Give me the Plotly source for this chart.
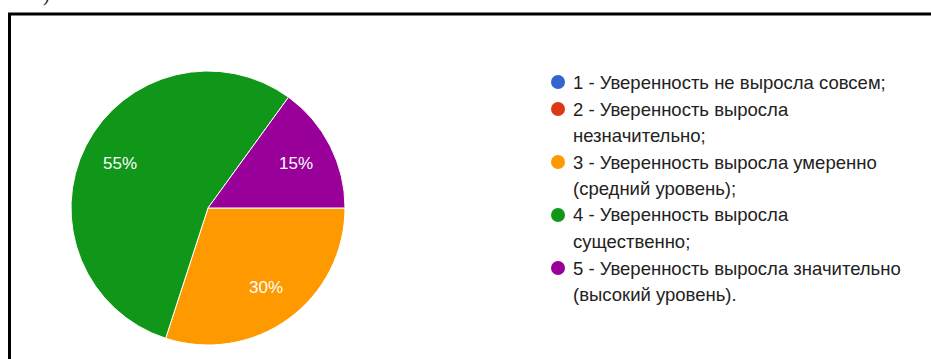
import math
import plotly.graph_objects as go

# Survey answers: growth of confidence (share of respondents, %)
labels = [
    "1 - Уверенность не выросла совсем;",
    "2 - Уверенность выросла незначительно;",
    "3 - Уверенность выросла умеренно (средний уровень);",
    "4 - Уверенность выросла существенно;",
    "5 - Уверенность выросла значительно (высокий уровень).",
]
# legend text, already broken into display lines
legend_lines = [
    ["1 - Уверенность не выросла совсем;"],
    ["2 - Уверенность выросла", "незначительно;"],
    ["3 - Уверенность выросла умеренно", "(средний уровень);"],
    ["4 - Уверенность выросла", "существенно;"],
    ["5 - Уверенность выросла значительно", "(высокий уровень)."],
]
values = [0, 0, 30, 55, 15]
colors = ["#3366cc", "#dc3912", "#ff9900", "#109618", "#990099"]

W, H = 931, 359
FONT = "Arial, Liberation Sans, sans-serif"

# pie placement (pixels)
CX, CY, R = 208, 208, 137
ROTATION = 90          # first slice starts at 3 o'clock
LABEL_POS = 0.72       # label distance from centre, fraction of radius


def px(x):
    return x / W


def py(y):
    return 1 - y / H


fig = go.Figure()

fig.add_trace(go.Pie(
    labels=labels,
    values=values,
    sort=False,
    direction="clockwise",
    rotation=ROTATION,
    marker=dict(colors=colors, line=dict(color="white", width=1)),
    textinfo="none",
    domain=dict(x=[px(CX - R), px(CX + R)], y=[py(CY + R), py(CY - R)]),
    showlegend=False,
    hoverinfo="label+percent",
))

shapes = [
    # frame around the chart
    dict(type="rect", xref="paper", yref="paper",
         x0=px(9.5), x1=px(W + 20), y0=py(H + 20), y1=py(14),
         line=dict(color="black", width=3), fillcolor="rgba(0,0,0,0)"),
]
annotations = [
    dict(text=")", x=px(46), y=py(-6), xref="paper", yref="paper",
         xanchor="center", yanchor="middle", showarrow=False,
         font=dict(family="Liberation Serif, serif", size=20, color="#222")),
]

# percentage labels inside the slices, placed on each slice's mid-angle
total = sum(values)
angle = ROTATION
for v in values:
    span = 360 * v / total
    if v > 0:
        mid = math.radians(angle + span / 2)
        lx = CX + LABEL_POS * R * math.sin(mid)
        ly = CY - LABEL_POS * R * math.cos(mid)
        annotations.append(dict(
            text=f"{round(100 * v / total)}%", x=px(lx), y=py(ly),
            xref="paper", yref="paper", xanchor="center", yanchor="middle",
            showarrow=False, font=dict(family=FONT, size=17, color="white")))
    angle += span

# custom legend with round markers
y = 82
for i, lines in enumerate(legend_lines):
    r = 7
    shapes.append(dict(type="circle", xref="paper", yref="paper",
                       x0=px(558 - r), x1=px(558 + r),
                       y0=py(y + r), y1=py(y - r),
                       fillcolor=colors[i], line=dict(width=0)))
    for j, line in enumerate(lines):
        annotations.append(dict(
            text=line, x=px(571), y=py(y), xref="paper", yref="paper",
            xanchor="left", yanchor="middle", showarrow=False,
            font=dict(family=FONT, size=18.5, color="#222222")))
        if j < len(lines) - 1:
            y += 26
    y += 27

fig.update_layout(
    width=W, height=H,
    margin=dict(l=0, r=0, t=0, b=0),
    paper_bgcolor="white",
    plot_bgcolor="white",
    shapes=shapes,
    annotations=annotations,
)

fig.write_html("out.html")
